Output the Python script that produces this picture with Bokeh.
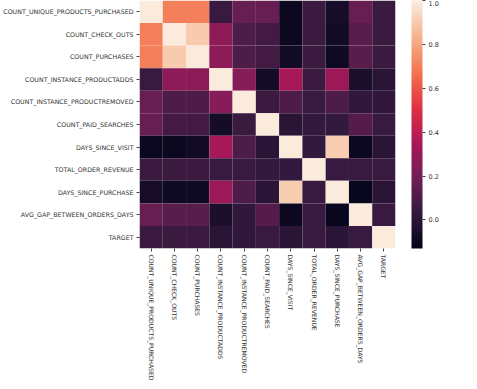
import numpy as np
from bokeh.plotting import figure
from bokeh.models import ColumnDataSource, LinearColorMapper, ColorBar, FixedTicker, PrintfTickFormatter
from bokeh.embed import file_html
from bokeh.resources import INLINE

names = ["COUNT_UNIQUE_PRODUCTS_PURCHASED", "COUNT_CHECK_OUTS", "COUNT_PURCHASES",
         "COUNT_INSTANCE_PRODUCTADDS", "COUNT_INSTANCE_PRODUCTREMOVED", "COUNT_PAID_SEARCHES",
         "DAYS_SINCE_VISIT", "TOTAL_ORDER_REVENUE", "DAYS_SINCE_PURCHASE",
         "AVG_GAP_BETWEEN_ORDERS_DAYS", "TARGET"]

corr = [
    [1.00, 0.70, 0.70, 0.04, 0.17, 0.17, -0.10, 0.05, -0.06, 0.17, 0.05],
    [0.70, 1.00, 0.90, 0.27, 0.10, 0.07, -0.10, 0.05, -0.08, 0.13, 0.05],
    [0.70, 0.90, 1.00, 0.27, 0.10, 0.07, -0.08, 0.05, -0.09, 0.13, 0.05],
    [0.04, 0.27, 0.27, 1.00, 0.25, -0.07, 0.34, 0.05, 0.31, -0.05, 0.00],
    [0.17, 0.10, 0.10, 0.25, 1.00, 0.05, 0.10, 0.04, 0.10, 0.02, 0.02],
    [0.17, 0.07, 0.07, -0.07, 0.05, 1.00, 0.00, 0.03, 0.03, 0.12, 0.04],
    [-0.10, -0.10, -0.08, 0.34, 0.10, 0.00, 1.00, 0.03, 0.91, -0.10, 0.00],
    [0.05, 0.05, 0.05, 0.04, 0.04, 0.03, 0.03, 1.00, 0.04, 0.04, 0.04],
    [-0.06, -0.09, -0.09, 0.31, 0.10, 0.00, 0.91, 0.04, 1.00, -0.11, 0.00],
    [0.17, 0.13, 0.13, -0.05, 0.02, 0.12, -0.10, 0.04, -0.11, 1.00, 0.04],
    [0.05, 0.05, 0.05, 0.00, 0.02, 0.04, 0.00, 0.04, 0.00, 0.04, 1.00],
]

vmin, vmax = -0.13, 1.0
cbar_ticks = [0.0, 0.2, 0.4, 0.6, 0.8, 1.0]

# rocket-like colormap stops
stops = ["#03051a", "#35193e", "#701f57", "#ad1759", "#e13342", "#f37651", "#f6b48f", "#faebdd"]
pos = np.linspace(0, 1, len(stops))
rgb = np.array([[int(s[i:i + 2], 16) for i in (1, 3, 5)] for s in stops], dtype=float)
tt = np.linspace(0, 1, 256)
palette = []
for t in tt:
    c = [np.interp(t, pos, rgb[:, k]) for k in range(3)]
    palette.append("#%02x%02x%02x" % tuple(int(round(v)) for v in c))

xs, ys, vs = [], [], []
for i, rn in enumerate(names):
    for j, cn in enumerate(names):
        xs.append(cn)
        ys.append(rn)
        vs.append(corr[i][j])
src = ColumnDataSource(dict(x=xs, y=ys, v=vs))

mapper = LinearColorMapper(palette=palette, low=vmin, high=vmax)

p = figure(x_range=names, y_range=list(reversed(names)),
           frame_width=256, frame_height=248,
           output_backend="svg", toolbar_location=None,
           min_border_left=131, min_border_right=10, min_border_top=0, min_border_bottom=10)
p.rect(x="x", y="y", width=1, height=1, source=src,
       fill_color={"field": "v", "transform": mapper}, line_color=None)

p.outline_line_color = None
p.grid.grid_line_color = None
for ax in (p.xaxis, p.yaxis):
    ax.axis_line_color = None
    ax.major_tick_line_color = "#444444"
    ax.major_tick_out = 3
    ax.major_tick_in = 0
    ax.major_label_text_font = "DejaVu Sans"
    ax.major_label_text_color = "#333333"
    ax.major_label_standoff = 3
p.yaxis.major_label_text_font_size = "6.3px"
p.xaxis.major_label_text_font_size = "6.1px"
p.xaxis.major_label_orientation = "vertical"

cb = ColorBar(color_mapper=mapper, ticker=FixedTicker(ticks=cbar_ticks),
              formatter=PrintfTickFormatter(format="%.1f"), width=11, height=248,
              location=(16, 0), padding=0, margin=0,
              major_label_text_font="DejaVu Sans", major_label_text_font_size="6.5px",
              major_label_text_color="#333333", major_tick_line_color="#444444",
              major_tick_out=3, major_tick_in=0, bar_line_color=None,
              label_standoff=3, background_fill_color=None)
p.add_layout(cb, "right")

open("out.html", "w").write(file_html(p, INLINE))
